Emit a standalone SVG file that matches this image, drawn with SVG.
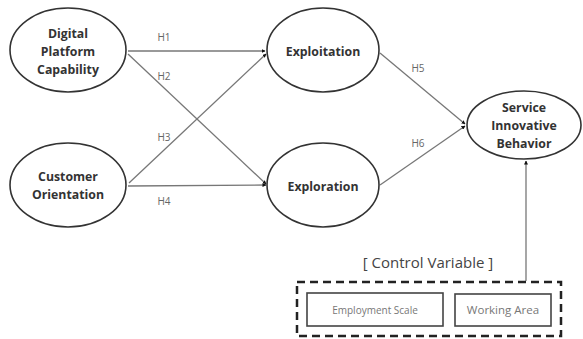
<svg xmlns="http://www.w3.org/2000/svg" width="583" height="339" viewBox="0 0 583 339">
<style>
.node{fill:#fff;stroke:#333;stroke-width:1.6}
.nt{font-family:"Open Sans","Liberation Sans",sans-serif;font-weight:bold;font-size:12.3px;fill:#333;text-anchor:middle}
.conn{stroke:#777;stroke-width:1.3;fill:none;marker-end:url(#ah)}
.lbl{font-family:"Open Sans","Liberation Sans",sans-serif;font-size:10px;fill:#666;text-anchor:middle}
.box{fill:#fff;stroke:#444;stroke-width:1.6}
.bt{font-family:"Open Sans","Liberation Sans",sans-serif;fill:#777;text-anchor:middle}
</style>
<defs>
<marker id="ah" markerWidth="4" markerHeight="4" refX="3.5" refY="2" orient="auto" markerUnits="userSpaceOnUse">
<path d="M0,0 L4,2 L0,4 Z" fill="#111"/>
</marker>
</defs>
<rect width="583" height="339" fill="#fff"/>
<g id="connectors">
<line class="conn" x1="128" y1="51" x2="265" y2="51"/>
<line class="conn" x1="128" y1="54" x2="266" y2="184"/>
<line class="conn" x1="129" y1="183" x2="266" y2="54"/>
<line class="conn" x1="128" y1="186" x2="266" y2="185"/>
<line class="conn" x1="380" y1="53" x2="465" y2="124"/>
<line class="conn" x1="380" y1="185" x2="465" y2="126"/>
<line class="conn" x1="526" y1="281" x2="526" y2="161"/>
<text class="lbl" x="164" y="41">H1</text>
<text class="lbl" x="164" y="80">H2</text>
<text class="lbl" x="164" y="141">H3</text>
<text class="lbl" x="164" y="205">H4</text>
<text class="lbl" x="418" y="72">H5</text>
<text class="lbl" x="418" y="147">H6</text>
</g>
<g id="dpc">
<ellipse class="node" cx="68" cy="50" rx="58" ry="42"/>
<text class="nt" x="68" y="38">Digital</text>
<text class="nt" x="68" y="56">Platform</text>
<text class="nt" x="68" y="74">Capability</text>
</g>
<g id="co">
<ellipse class="node" cx="68" cy="185" rx="58" ry="42"/>
<text class="nt" x="68" y="181">Customer</text>
<text class="nt" x="68" y="199">Orientation</text>
</g>
<g id="exploitation">
<ellipse class="node" cx="323" cy="50" rx="56" ry="42"/>
<text class="nt" x="323" y="56">Exploitation</text>
</g>
<g id="exploration">
<ellipse class="node" cx="323" cy="185" rx="56" ry="42"/>
<text class="nt" x="323" y="191">Exploration</text>
</g>
<g id="sib">
<ellipse class="node" cx="524" cy="125" rx="57" ry="34"/>
<text class="nt" x="524" y="112">Service</text>
<text class="nt" x="524" y="130">Innovative</text>
<text class="nt" x="524" y="148">Behavior</text>
</g>
<g id="control">
<text x="428" y="268" font-family="'Open Sans','Liberation Sans',sans-serif" font-size="15px" fill="#444" text-anchor="middle">[ Control Variable ]</text>
<rect x="297" y="282" width="264" height="54" fill="none" stroke="#222" stroke-width="2.5" stroke-dasharray="8,5"/>
</g>
<g id="employment">
<rect class="box" x="307" y="293" width="136" height="33"/>
<text class="bt" x="375" y="314" style="font-size:10px">Employment Scale</text>
</g>
<g id="working">
<rect class="box" x="455" y="294" width="96" height="32"/>
<text class="bt" x="503" y="314" style="font-size:11.5px">Working Area</text>
</g>
</svg>
